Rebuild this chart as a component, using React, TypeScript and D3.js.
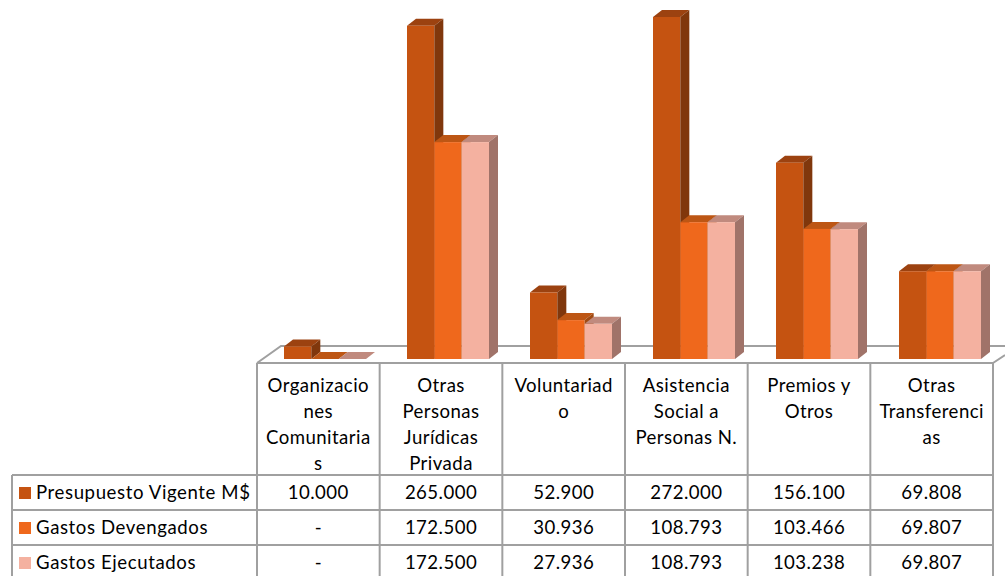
import React from 'react'
import * as d3 from 'd3'

const categories = [
  'Organizaciones Comunitarias',
  'Otras Personas Jurídicas Privada',
  'Voluntariado',
  'Asistencia Social a Personas N.',
  'Premios y Otros',
  'Otras Transferencias',
]
// wrapped the same way as in the data table
const categoryLines = [
  ['Organizacio', 'nes', 'Comunitaria', 's'],
  ['Otras', 'Personas', 'Jurídicas', 'Privada'],
  ['Voluntariad', 'o'],
  ['Asistencia', 'Social a', 'Personas N.'],
  ['Premios y', 'Otros'],
  ['Otras', 'Transferenci', 'as'],
]
const seriesNames = ['Presupuesto Vigente M$', 'Gastos Devengados', 'Gastos Ejecutados']
const presupuesto = [10000, 265000, 52900, 272000, 156100, 69808]
const devengados = [0, 172500, 30936, 108793, 103466, 69807]
const ejecutados = [0, 172500, 27936, 108793, 103238, 69807]
const seriesValues = [presupuesto, devengados, ejecutados]

const frontColors = ['#c55311', '#ef681c', '#f4b1a0']
const topColors = ['#9c4210', '#bd5614', '#c08a7e']
const sideColors = ['#80370c', '#a04a12', '#a07369']

const gridColor = '#a0a0a0'
const font = 'Lato, sans-serif'
const textSize = 18.6
const textSpacing = 0.45

const fmt = d3.formatLocale({ decimal: ',', thousands: '.', grouping: [3], currency: ['', ''] }).format(',')

const tableLeft = 12
const tableTop = 363
const rowTop = 475
const rowH = 35
const baseY = 359
const depthX = 9
const depthY = 7

export default function App() {
  const x = d3.scaleBand().domain(categories).range([257, 993])
  const step = x.bandwidth()
  // the 3d plot runs a little wider than the table under it
  const xPlot = d3.scaleBand().domain(categories).range([257, 995])
  const xBar = d3.scaleBand().domain(seriesNames).range([27, 109])
  const y = d3.scaleLinear().domain([0, 272000]).range([baseY, 17])

  return (
    <svg
      width={1005}
      height={576}
      style={{ position: 'absolute', left: 0, top: 0, display: 'block' }}
      fontFamily={font}
    >
      {/* floor */}
      <path
        d={`M257,${tableTop} L${257 + 24},346 H1005 M993,${tableTop} L1005,355`}
        fill="none"
        stroke={gridColor}
        strokeWidth={2}
      />

      {/* bars */}
      {categories.map((c, i) => (
        <g key={c}>
          {seriesNames.map((s, j) => {
            const x0 = (xPlot(c) as number) + (xBar(s) as number)
            const x1 = x0 + xBar.bandwidth()
            const top = y(seriesValues[j][i])
            const flat = seriesValues[j][i] === 0
            return (
              <g key={s}>
                <path
                  d={`M${x0},${top} l${depthX},${-depthY} H${x1 + depthX} L${x1},${top} Z`}
                  fill={topColors[j]}
                />
                {!flat && (
                  <>
                    <rect x={x0} y={top} width={xBar.bandwidth()} height={baseY - top} fill={frontColors[j]} />
                    <path
                      d={`M${x1},${top} l${depthX},${-depthY} V${baseY - depthY} L${x1},${baseY} Z`}
                      fill={sideColors[j]}
                    />
                  </>
                )}
              </g>
            )
          })}
        </g>
      ))}

      {/* table lines */}
      <g stroke={gridColor} strokeWidth={2} fill="none">
        <path d={`M257,${tableTop} H993`} />
        <path d={`M${tableLeft},${rowTop} H993`} />
        {seriesNames.map((s, j) =>
          j > 0 ? <path key={s} d={`M${tableLeft},${rowTop + j * rowH} H993`} /> : null
        )}
        <path d={`M${tableLeft},${rowTop} V576`} />
        {d3.range(categories.length + 1).map((k) => (
          <path key={k} d={`M${257 + k * step},${tableTop} V576`} />
        ))}
      </g>

      {/* category labels */}
      {categories.map((c, i) => (
        <text key={c} textAnchor="middle" fontSize={textSize} letterSpacing={textSpacing} fill="#000">
          {categoryLines[i].map((line, k) => (
            <tspan key={k} x={(x(c) as number) + step / 2} y={392 + k * 26}>
              {line}
            </tspan>
          ))}
        </text>
      ))}

      {/* legend column + values */}
      {seriesNames.map((s, j) => (
        <g key={s} fontSize={textSize} letterSpacing={textSpacing} fill="#000">
          <rect x={19} y={rowTop + 12 + j * rowH} width={12} height={12} fill={frontColors[j]} />
          <text x={36} y={rowTop + 23.5 + j * rowH} letterSpacing={0.6}>
            {s}
          </text>
          {categories.map((c, i) => (
            <text key={c} x={(x(c) as number) + step / 2} y={rowTop + 23.5 + j * rowH} textAnchor="middle">
              {seriesValues[j][i] === 0 ? '-' : fmt(seriesValues[j][i])}
            </text>
          ))}
        </g>
      ))}
    </svg>
  )
}
